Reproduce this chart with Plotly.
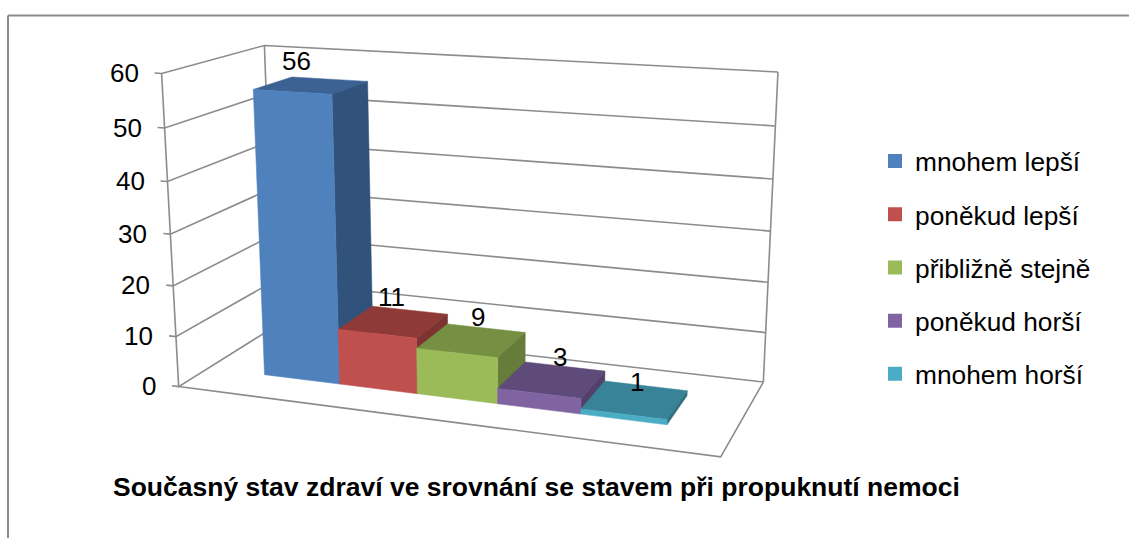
import numpy as np
import plotly.graph_objects as go

categories = ["mnohem lepší", "poněkud lepší", "přibližně stejně", "poněkud horší", "mnohem horší"]
values = [56, 11, 9, 3, 1]
ztickvals = [0, 10, 20, 30, 40, 50, 60]
zmax = 60
title = "Současný stav zdraví ve srovnání se stavem při propuknutí nemoci"

W, H = 1129, 538
GRID = "#8C8C8C"

# Perspective of the 3-D box: (u along categories, v into depth, w up) -> screen pixels
CAL_UVW = np.array([(0,0,0),(0,0,1),(1,0,0),(0,1,0),(0,1,1),(1,1,0),(1,1,1)], float)
CAL_PX = np.array([(178,386),(162,74),(721,457),(275.5,327),(264,45),(763,382),(778,72)], float)

def fit_projection():
    rows = []
    for (u, v, w), (x, y) in zip(CAL_UVW, CAL_PX):
        rows.append([u, v, w, 1, 0, 0, 0, 0, -x*u, -x*v, -x*w, -x])
        rows.append([0, 0, 0, 0, u, v, w, 1, -y*u, -y*v, -y*w, -y])
    return np.linalg.svd(np.array(rows))[2][-1].reshape(3, 4)

P = fit_projection()

def project(u, v, w):
    h = P @ np.array([u, v, w, 1.0])
    return h[0] / h[2], h[1] / h[2]

# Bar layout inside the box
BAR_START, BAR_WIDTH = 0.117, 0.1534
BAR_V0, BAR_V1 = 0.29, 0.69
TICK_U = -0.014

FRONT = ["#4F81BD", "#C0504D", "#9BBB59", "#8064A2", "#4BACC6"]
TOP = ["#3C6293", "#8F3A39", "#769043", "#5F4B7A", "#388397"]
SIDE = ["#31527B", "#7D3331", "#657C3A", "#53416B", "#2F6F80"]
LABEL_DX = [-15, -2, 6, 8, 2]
LABEL_DY = [3, 4, 2, 2, -3]

fig = go.Figure()

def add_line(pts, width=1.6):
    xy = [project(*q) for q in pts]
    fig.add_trace(go.Scatter(x=[a for a, b in xy], y=[b for a, b in xy], mode="lines",
                             line=dict(color=GRID, width=width), hoverinfo="skip", showlegend=False))

def add_face(pts, color):
    xy = [project(*q) for q in pts + pts[:1]]
    fig.add_trace(go.Scatter(x=[a for a, b in xy], y=[b for a, b in xy], mode="lines", fill="toself",
                             fillcolor=color, line=dict(color=color, width=0.5), hoverinfo="skip", showlegend=False))

for t in ztickvals:
    w = t / zmax
    add_line([(TICK_U, 0, w), (0, 0, w), (0, 1, w), (1, 1, w)])
add_line([(0, 0, 0), (0, 0, 1)])
add_line([(0, 1, 0), (0, 1, 1)])
add_line([(1, 1, 0), (1, 1, 1)])
add_line([(0, 0, 0), (1, 0, 0), (1, 1, 0)])

for i, val in enumerate(values):
    u0, u1, w = BAR_START + i * BAR_WIDTH, BAR_START + (i + 1) * BAR_WIDTH, val / zmax
    v0, v1 = BAR_V0, BAR_V1
    add_face([(u0, v0, w), (u1, v0, w), (u1, v1, w), (u0, v1, w)], TOP[i])
    add_face([(u1, v0, 0), (u1, v1, 0), (u1, v1, w), (u1, v0, w)], SIDE[i])
    add_face([(u0, v0, 0), (u1, v0, 0), (u1, v0, w), (u0, v0, w)], FRONT[i])

for i, name in enumerate(categories):
    fig.add_trace(go.Scatter(x=[None], y=[None], mode="markers", name=name, legendgroup=name,
                             marker=dict(symbol="square", size=14, color=FRONT[i]), hoverinfo="skip"))

FONT = "Liberation Sans, Arial, sans-serif"
ann = []
for t in ztickvals:
    x, y = project(TICK_U, 0, t / zmax)
    ann.append(dict(x=x, y=y, text=str(t), showarrow=False, xanchor="right", yanchor="middle", xshift=-14,
                    font=dict(family=FONT, size=26, color="black")))
for i, val in enumerate(values):
    x, y = project(BAR_START + (i + 0.5) * BAR_WIDTH, (BAR_V0 + BAR_V1) / 2, val / zmax)
    ann.append(dict(x=x, y=y, text=str(val), showarrow=False, yanchor="bottom", xshift=LABEL_DX[i], yshift=4 + LABEL_DY[i],
                    font=dict(family=FONT, size=26, color="black")))
ann.append(dict(x=111, y=487, text="<b>" + title + "</b>", showarrow=False,
                xanchor="left", yanchor="middle", font=dict(family=FONT, size=26.5, color="black")))

fig.update_layout(width=W, height=H, margin=dict(l=0, r=0, t=0, b=0), paper_bgcolor="white", plot_bgcolor="white",
    xaxis=dict(range=[0, W], visible=False, fixedrange=True),
    yaxis=dict(range=[H, 0], visible=False, fixedrange=True),
    annotations=ann,
    legend=dict(x=875 / W, xanchor="left", y=1 - 137.5 / H, yanchor="top", tracegroupgap=16, bgcolor="rgba(0,0,0,0)",
                font=dict(family=FONT, size=26.3, color="black")),
    shapes=[dict(type="line", xref="x", yref="y", x0=8, y0=15.5, x1=W, y1=15.5, line=dict(color=GRID, width=2)),
            dict(type="line", xref="x", yref="y", x0=8, y0=15.5, x1=8, y1=H, line=dict(color=GRID, width=2))])
fig.write_html("out.html", config=dict(displayModeBar=False), post_script="document.body.style.margin='0'")
